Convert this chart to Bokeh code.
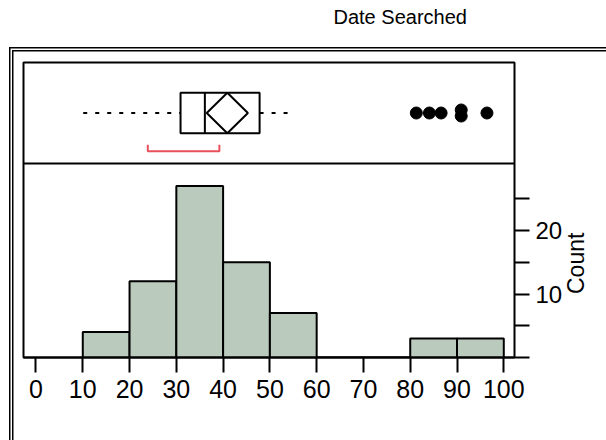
import math
from bokeh.plotting import figure
from bokeh.models import Range1d, FixedTicker, Span, LinearAxis, Title
from bokeh.embed import file_html
from bokeh.resources import INLINE

# ---------------- data ----------------
bin_left = [10, 20, 30, 40, 50, 60, 70, 80, 90]
bin_right = [20, 30, 40, 50, 60, 70, 80, 90, 100]
counts = [4, 12, 27, 15, 7, 0, 0, 3, 3]

x_ticks = [0, 10, 20, 30, 40, 50, 60, 70, 80, 90, 100]
y_major_ticks = [10, 20]
y_minor_ticks = [0, 5, 15, 25]

whisker_low = 10.1
q1 = 30.9
median = 36.1
q3 = 47.8
whisker_high = 54.4
mean = 40.9
ci_low = 36.5
ci_high = 45.3
shortest_half = [23.9, 39.2]

outliers = [81.3, 84.1, 86.6, 90.9, 90.9, 96.4]
outlier_jitter = [0.0, 0.0, 0.0, 0.15, -0.15, 0.0]

title_text = "Date Searched"
y_label = "Count"

FONT = "Liberation Sans"

# ---------------- figure ----------------
HIST_TOP = 30.55  # count level where histogram panel ends / box panel begins

frame_css = {
    "background-image": ", ".join(["linear-gradient(#000, #000)"] * 4),
    "background-position": "9px 47px, 9px 47px, 11.5px 50px, 11.5px 50px",
    "background-size": "1.5px 600px, 700px 1.5px, 1.5px 600px, 700px 1.5px",
    "background-repeat": "no-repeat",
}

p = figure(width=606, height=440, output_backend="svg", toolbar_location=None,
           x_range=Range1d(-2.67, 102.29), y_range=Range1d(0, 46.46),
           y_axis_location="right",
           min_border_left=23, min_border_right=92,
           min_border_top=62, min_border_bottom=83)
p.styles = frame_css
p.extra_y_ranges = {"box": Range1d(-12.1, 2.5)}

# title: a thin spacer sits between the frame and the title text
p.add_layout(Title(text=" ", text_font_size="1px", standoff=32), "above")
p.add_layout(Title(text=title_text, align="left", offset=310, standoff=0,
                   text_font=FONT, text_font_size="20px",
                   text_font_style="normal", text_color="black"), "above")

p.xgrid.visible = False
p.ygrid.visible = False
p.outline_line_color = "black"
p.outline_line_width = 2
p.background_fill_color = "white"
p.border_fill_color = None

xa = p.xaxis[0]
xa.ticker = FixedTicker(ticks=x_ticks, minor_ticks=[])
xa.major_tick_in = 0
xa.major_tick_out = 15
xa.minor_tick_in = 0
xa.minor_tick_out = 0
xa.axis_line_width = 2
xa.major_tick_line_width = 2
xa.axis_line_color = "black"
xa.major_tick_line_color = "black"
xa.major_label_text_font = FONT
xa.major_label_text_font_size = "25px"
xa.major_label_text_color = "black"
xa.major_label_standoff = 7

ya = p.yaxis[0]
ya.ticker = FixedTicker(ticks=y_major_ticks, minor_ticks=y_minor_ticks)
ya.major_tick_in = 0
ya.major_tick_out = 15
ya.minor_tick_in = 0
ya.minor_tick_out = 15
ya.axis_line_color = None
ya.major_tick_line_width = 2
ya.minor_tick_line_width = 2
ya.major_tick_line_color = "black"
ya.minor_tick_line_color = "black"
ya.major_label_text_font = FONT
ya.major_label_text_font_size = "24px"
ya.major_label_text_color = "black"
ya.major_label_standoff = 6

# axis title "Count", set beside the histogram part of the right axis
label_axis = LinearAxis(ticker=FixedTicker(ticks=[10], minor_ticks=[]),
                        major_label_overrides={10: y_label},
                        major_label_orientation=math.pi / 2,
                        major_tick_in=0, major_tick_out=0,
                        minor_tick_in=0, minor_tick_out=0,
                        axis_line_color=None, major_tick_line_color=None,
                        minor_tick_line_color=None,
                        major_label_text_font=FONT,
                        major_label_text_font_size="23px",
                        major_label_text_line_height=1.0,
                        major_label_text_color="black",
                        major_label_standoff=11)
p.add_layout(label_axis, "right")

# ---------------- histogram ----------------
p.quad(left=bin_left, right=bin_right, bottom=0, top=counts,
       fill_color="#BACABC", line_color="black", line_width=2)

p.add_layout(Span(location=HIST_TOP, dimension="width",
                  line_color="black", line_width=2))

# ---------------- box plot ----------------
p.segment(x0=[whisker_low, q3], x1=[q1, whisker_high], y0=[0, 0], y1=[0, 0],
          line_color="black", line_width=2, line_dash="4 8", y_range_name="box")
p.quad(left=[q1], right=[q3], bottom=[-1], top=[1], fill_color=None,
       line_color="black", line_width=2, y_range_name="box")
p.segment(x0=[median], x1=[median], y0=[-1], y1=[1],
          line_color="black", line_width=2, y_range_name="box")
p.patch(x=[ci_low, mean, ci_high, mean], y=[0, 1, 0, -1], fill_color=None,
        line_color="black", line_width=2, y_range_name="box")
p.line(x=[shortest_half[0], shortest_half[0], shortest_half[1], shortest_half[1]],
       y=[-1.57, -1.89, -1.89, -1.57], line_color="#E8515B", line_width=2,
       y_range_name="box")
p.scatter(x=outliers, y=outlier_jitter, size=12, color="black", y_range_name="box")

open("out.html", "w").write(file_html(p, INLINE))
